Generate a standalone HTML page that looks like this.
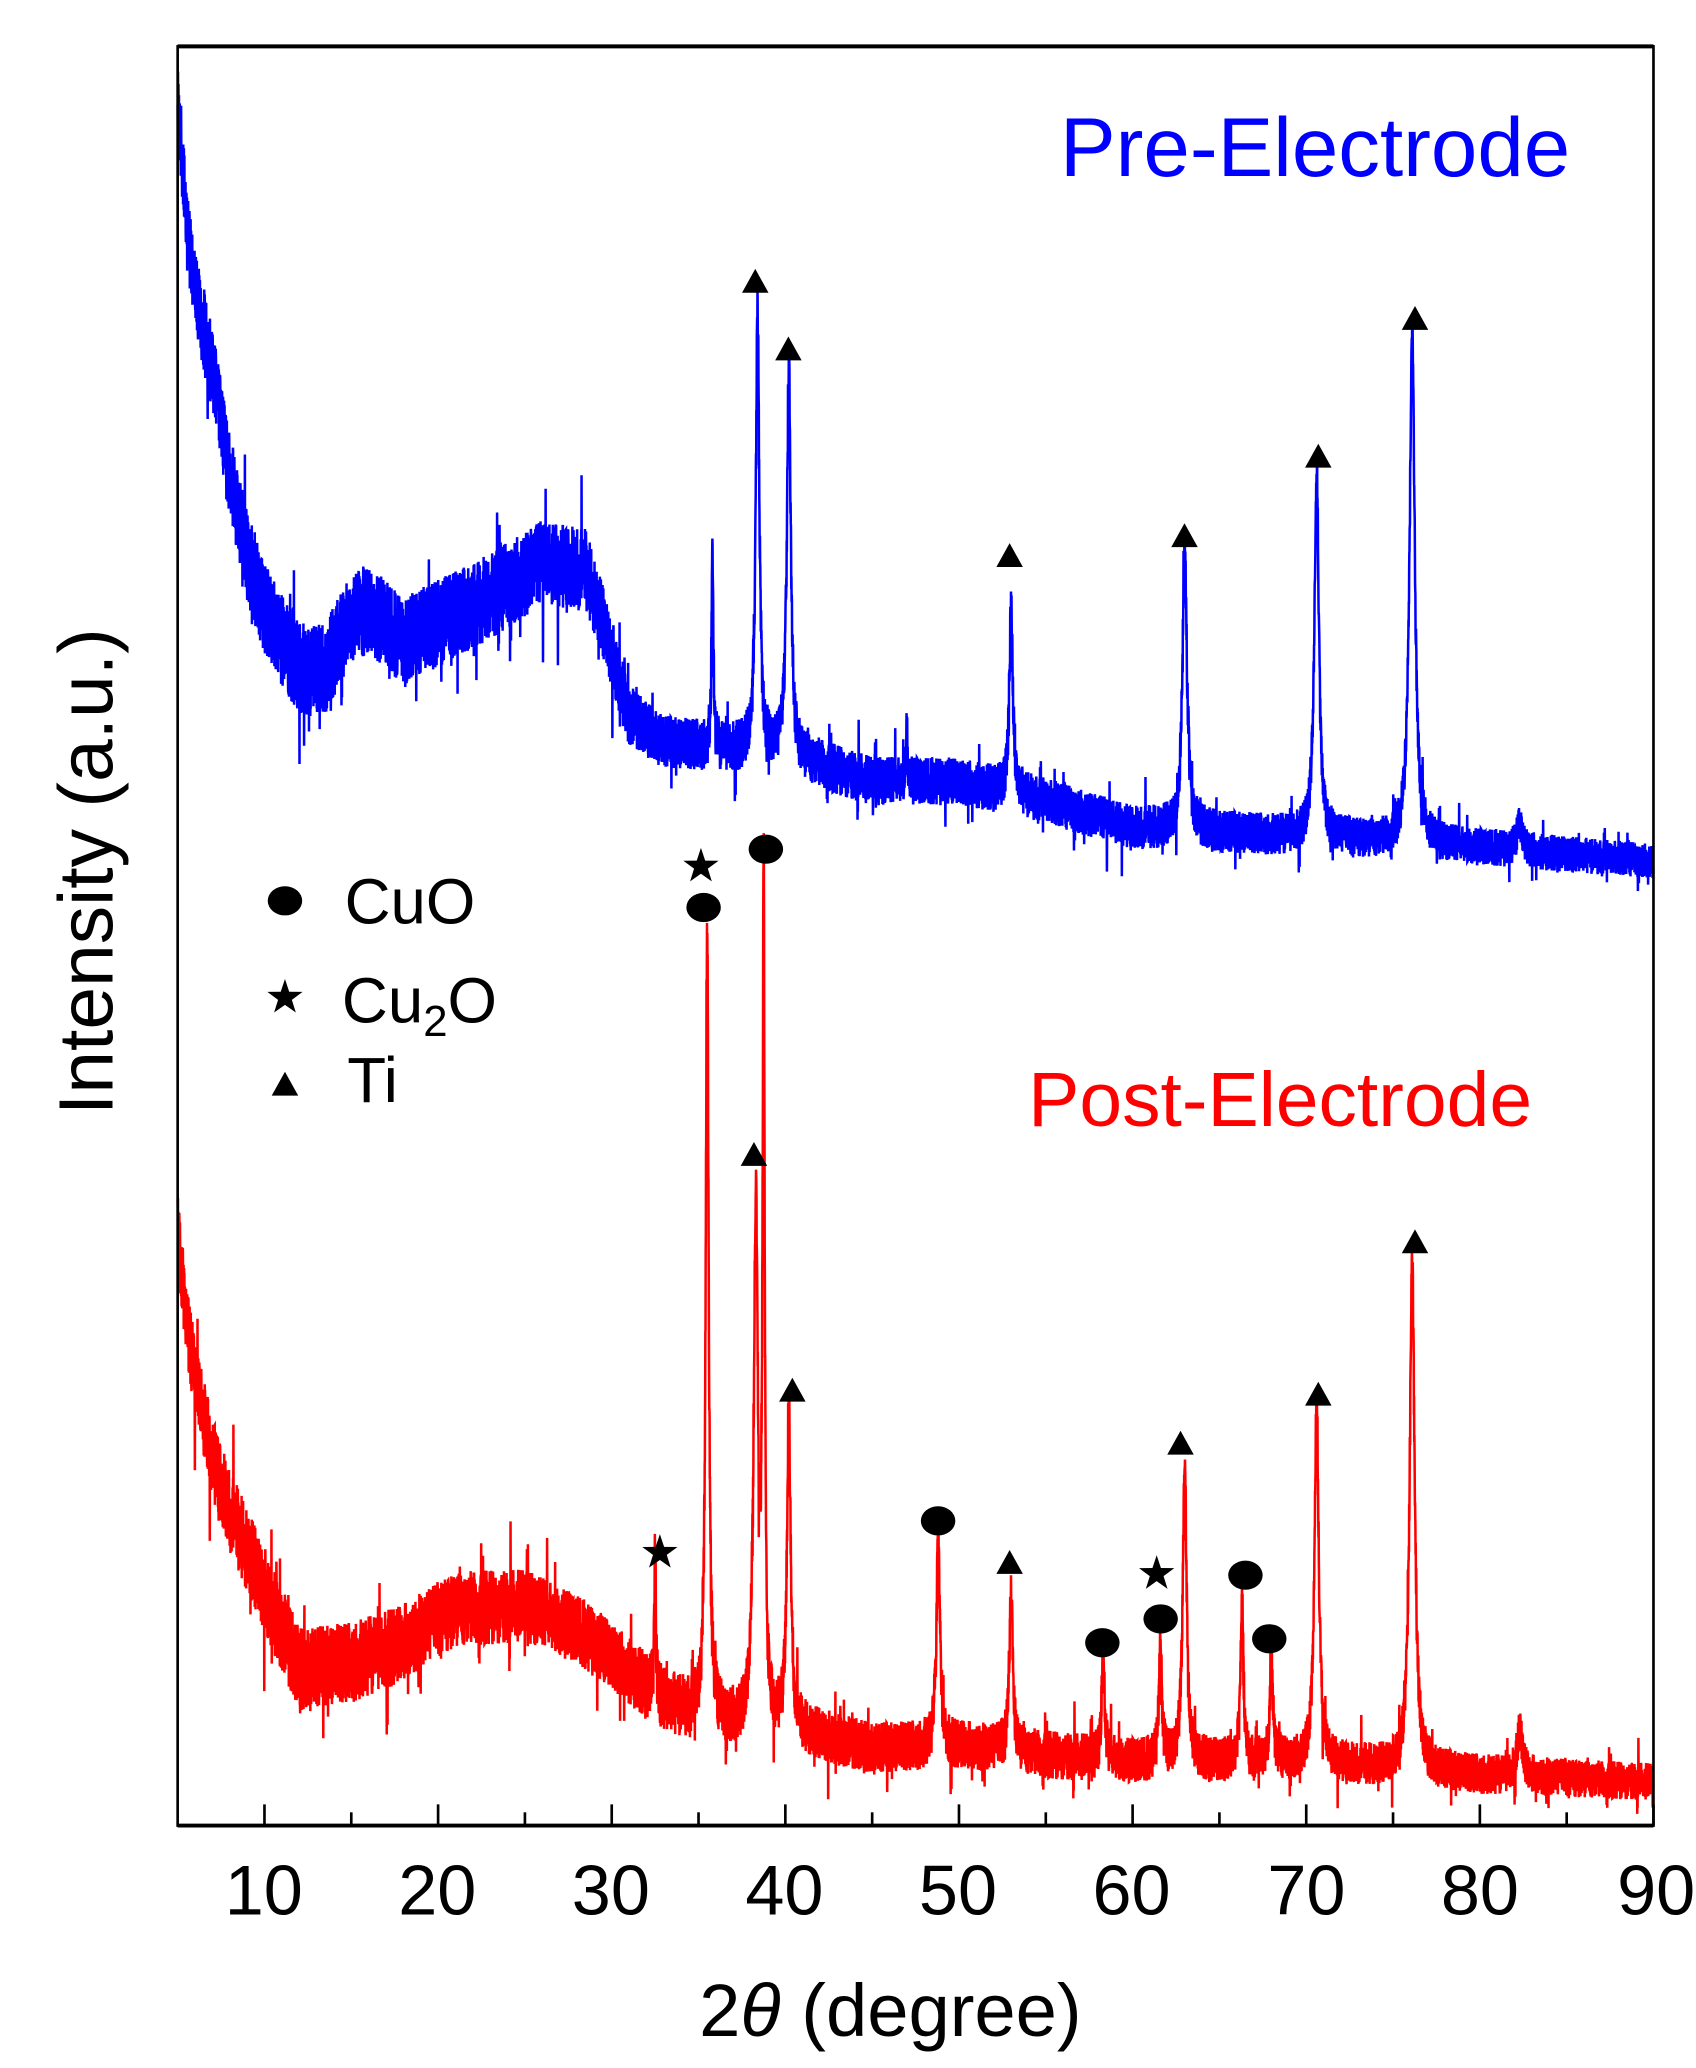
<!DOCTYPE html>
<html><head><meta charset="utf-8">
<style>html,body{margin:0;padding:0;background:#fff;}svg{display:block;}</style>
</head><body>
<svg id="s" xmlns="http://www.w3.org/2000/svg" width="1696" height="2068" viewBox="0 0 1280 1561" font-family="Liberation Sans, Arial, sans-serif">
<rect width="1280" height="1561" fill="#fff"/>
<g id="data"></g>
<g id="marks" fill="#000"></g>
<rect x="134" y="35" width="1114" height="1343" fill="none" stroke="#000" stroke-width="2"/>
<line x1="134" y1="35" x2="1248" y2="35" stroke="#000" stroke-width="3"/>
<line x1="134" y1="1378" x2="1248" y2="1378" stroke="#000" stroke-width="3"/>
<g id="ticks" stroke="#000" stroke-width="2"></g>
<g font-size="53" text-anchor="middle" fill="#000">
<text x="199" y="1445">10</text><text x="330" y="1445">20</text><text x="461" y="1445">30</text>
<text x="592" y="1445">40</text><text x="723" y="1445">50</text><text x="854" y="1445">60</text>
<text x="986" y="1445">70</text><text x="1117" y="1445">80</text><text x="1250" y="1445">90</text>
</g>
<text x="672" y="1537" font-size="56" text-anchor="middle">2<tspan font-style="italic">θ</tspan> (degree)</text>
<text transform="translate(85,658) rotate(-90)" font-size="58" text-anchor="middle">Intensity (a.u.)</text>
<text x="800" y="133" font-size="63" fill="#0000ff">Pre-Electrode</text>
<text x="776" y="850" font-size="58" fill="#ff0000">Post-Electrode</text>
<g font-size="48" fill="#000">
<text x="260" y="697">CuO</text>
<text x="258" y="772">Cu<tspan font-size="33" dy="10">2</tspan><tspan dy="-10">O</tspan></text>
<text x="262" y="832">Ti</text>
</g>
</svg>
<script>
(function(){
var NS="http://www.w3.org/2000/svg";
function X(d){return 134+(d-5)*13.106;}
var seed=12345;function rnd(){seed=(seed*1103515245+12345)%2147483648;return seed/2147483648;}
function interp(pts,d){for(var i=0;i<pts.length-1;i++){if(d<=pts[i+1][0]){var t=(d-pts[i][0])/(pts[i+1][0]-pts[i][0]);return pts[i][1]+t*(pts[i+1][1]-pts[i][1]);}}return pts[pts.length-1][1];}
function trace(base,peaks,amp,color){
 var p=[];var N=9000;
 for(var i=0;i<=N;i++){
  var d=5+85*i/N;
  var y=interp(base,d);
  var h=0;
  for(var k=0;k<peaks.length;k++){var pk=peaks[k];var u=(d-pk[0])/pk[2];h+=pk[1]/(1+u*u);}
  var a=interp(amp,d);
  var n=(rnd()-0.5)*2*a;
  if(rnd()<0.04)n+=(rnd()-0.5)*3*a;
  y=y-h*(1+(rnd()-0.5)*0.05)+n;
  p.push(X(d).toFixed(2)+","+y.toFixed(1));
 }
 var pl=document.createElementNS(NS,"polyline");
 pl.setAttribute("points",p.join(" "));pl.setAttribute("fill","none");
 pl.setAttribute("stroke",color);pl.setAttribute("stroke-width","1.9");
 document.getElementById("data").appendChild(pl);
}
var bb=[[5,70],[5.5,170],[6,220],[7,280],[8,360],[9,420],[10,460],[12,505],[13.5,505],[15,465],[16,460],[18,485],[20,470],[23,450],[26,425],[28.5,430],[29.5,470],[31,540],[33,560],[36,565],[40,570],[45,590],[50,590],[55,605],[60,625],[70,632],[80,640],[90,650]];
var ba=[[5,30],[10,35],[28,32],[32,20],[50,18],[90,13]];
var bp=[[35.8,150,0.06],[38.4,340,0.12],[40.2,295,0.13],[47,45,0.05],[53.0,140,0.12],[63.0,210,0.16],[70.6,270,0.16],[76.1,385,0.18],[82.3,20,0.2]];
trace(bb,bp,ba,"#0000ff");
var rb=[[5,930],[5.5,1000],[6,1040],[7,1100],[8,1140],[10,1200],[12,1260],[15,1255],[18,1240],[21,1215],[25,1212],[28,1230],[30,1250],[33,1285],[36,1300],[40,1305],[45,1320],[50,1318],[55,1325],[60,1330],[70,1330],[80,1340],[90,1345]];
var ra=[[5,30],[10,32],[30,26],[40,20],[90,14]];
var rp=[[32.5,110,0.05],[35.5,600,0.1],[38.3,390,0.14],[38.75,620,0.07],[40.2,240,0.13],[48.8,160,0.12],[53.0,120,0.12],[58.3,80,0.1],[61.6,90,0.1],[63.0,220,0.14],[66.3,120,0.1],[68.0,80,0.1],[70.6,265,0.15],[76.1,385,0.17],[82.3,35,0.2]];
trace(rb,rp,ra,"#ff0000");
var m=document.getElementById("marks");
function tri(x,y){var e=document.createElementNS(NS,"polygon");e.setAttribute("points",(x-10)+","+(y+9)+" "+(x+10)+","+(y+9)+" "+x+","+(y-9));m.appendChild(e);}
function circ(x,y){var e=document.createElementNS(NS,"ellipse");e.setAttribute("cx",x);e.setAttribute("cy",y);e.setAttribute("rx",13);e.setAttribute("ry",11);m.appendChild(e);}
function star(x,y){var s=[];for(var i=0;i<10;i++){var r=i%2?5.5:14;var a=-Math.PI/2+i*Math.PI/5;s.push((x+r*Math.cos(a)).toFixed(1)+","+(y+r*Math.sin(a)).toFixed(1));}var e=document.createElementNS(NS,"polygon");e.setAttribute("points",s.join(" "));m.appendChild(e);}
[[570,212],[595,263],[762,419],[894,404],[995,344],[1068,240],[569,871],[598,1049],[762,1179],[891,1089],[995,1052],[1068,937],[215,818]].forEach(function(a){tri(a[0],a[1]);});
[[531,685],[578,641],[708,1148],[832,1240],[876,1222],[940,1189],[958,1237],[215,680]].forEach(function(a){circ(a[0],a[1]);});
[[498,1172],[529,654],[873,1188],[215,753]].forEach(function(a){star(a[0],a[1]);});
var t=document.getElementById("ticks");
for(var d=10;d<=90;d+=5){var L=(d%10==0)?16:10;var l=document.createElementNS(NS,"line");var x=X(d);l.setAttribute("x1",x);l.setAttribute("x2",x);l.setAttribute("y1",1378);l.setAttribute("y2",1378-L);t.appendChild(l);}
})();
</script>
</body></html>
